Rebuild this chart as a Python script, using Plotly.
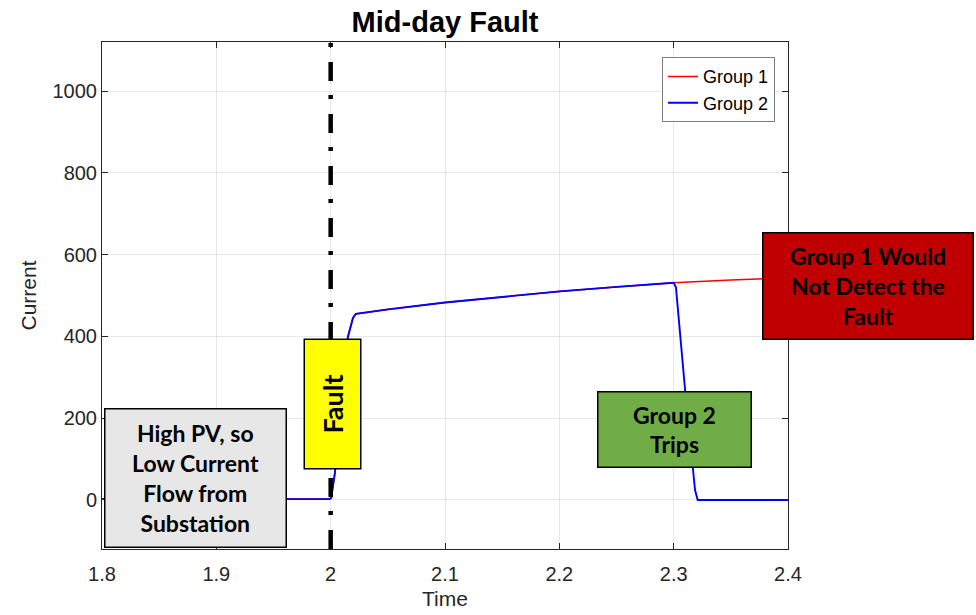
"""Mid-day fault: substation current seen by two protection groups."""

import plotly.graph_objects as go

# Group 1 keeps seeing the (slowly rising) fault current
TIME_G1 = [1.8, 1.9, 1.999, 2.0005, 2.0038, 2.008, 2.012, 2.015, 2.0195, 2.022,
           2.05, 2.1, 2.15, 2.2, 2.25, 2.3, 2.35, 2.4]
CURR_G1 = [2, 2, 2, 5, 68, 200, 330, 398, 445, 455,
           466, 483, 497, 510, 521, 531, 538, 543]

# Group 2 trips shortly after 2.3 s
TIME_G2 = [1.8, 1.9, 1.999, 2.0005, 2.0038, 2.008, 2.012, 2.015, 2.0195, 2.022,
           2.05, 2.1, 2.15, 2.2, 2.25, 2.3, 2.302, 2.31, 2.3187, 2.321, 2.35, 2.4]
CURR_G2 = [2, 2, 2, 5, 68, 200, 330, 398, 445, 455,
           466, 483, 497, 510, 521, 531, 520, 269, 24, 0, 0, 0]

FAULT_TIME = 2.0
X_TICKS = [1.8, 1.9, 2.0, 2.1, 2.2, 2.3, 2.4]
X_TICK_TEXT = ["1.8", "1.9", "2", "2.1", "2.2", "2.3", "2.4"]
Y_TICKS = [0, 200, 400, 600, 800, 1000]

TICK_FONT = {"family": "Liberation Sans, Arial", "size": 20, "color": "#262626"}
BOX_FONT = {"family": "Lato, Carlito, Calibri", "size": 23, "color": "black"}
GRID = "rgba(0,0,0,0.09)"

fig = go.Figure()
fig.add_trace(go.Scatter(x=TIME_G1, y=CURR_G1, mode="lines", name="Group 1",
                         line={"color": "#ff0000", "width": 1.5}))
fig.add_trace(go.Scatter(x=TIME_G2, y=CURR_G2, mode="lines", name="Group 2",
                         line={"color": "#0000ff", "width": 1.9}))

# fault instant
fig.add_shape(type="line", xref="x", yref="paper", x0=FAULT_TIME, x1=FAULT_TIME,
              y0=0, y1=1, line={"color": "black", "width": 4.5,
                                "dash": "19px,15px,4px,14px"})


def box(text, x, y, w, h, bg, angle=0, size=23):
    fig.add_annotation(
        text=text, xref="paper", yref="paper", x=x, y=y,
        xanchor="center", yanchor="middle", showarrow=False,
        width=w, height=h, bgcolor=bg, bordercolor="black", borderwidth=1.5,
        borderpad=0, textangle=angle, font={**BOX_FONT, "size": size},
        align="center",
    )


box("<b>High PV, so<br>Low Current<br>Flow from<br>Substation</b>",
    0.1363, 0.140, 180, 137, "#e7e7e7")
box("<b>Fault</b>", 0.3353, 0.285, 128, 55, "#ffff00", angle=-90, size=27)
box("<b>Group 2<br>Trips</b>", 0.8346, 0.2357, 152, 74, "#70ad47")
box("<b>Group 1 Would<br>Not Detect the<br>Fault</b>", 1.1166, 0.5197, 209, 105,
    "#c00000")

fig.update_layout(
    width=976, height=615,
    margin={"l": 102, "r": 188, "t": 42, "b": 66},
    paper_bgcolor="white", plot_bgcolor="white",
    title={"text": "<b>Mid-day Fault</b>", "x": 0.456, "xanchor": "center",
           "y": 0.965, "yanchor": "middle",
           "font": {"family": "Liberation Sans, Arial", "size": 29,
                    "color": "black"}},
    legend={"x": 0.981, "y": 0.970, "xanchor": "right", "yanchor": "top",
            "bgcolor": "white", "bordercolor": "#7f7f7f", "borderwidth": 1,
            "font": {"family": "Liberation Sans, Arial", "size": 18,
                     "color": "black"},
            "itemwidth": 30, "tracegroupgap": 0},
    showlegend=True,
)
fig.update_xaxes(
    range=[1.8, 2.4], tickvals=X_TICKS, ticktext=X_TICK_TEXT,
    tickfont=TICK_FONT, showgrid=True, gridcolor=GRID, zeroline=False,
    showline=True, linecolor="#262626", linewidth=1, mirror="ticks",
    ticks="inside", ticklen=6, tickcolor="#262626", ticklabelstandoff=7,
    automargin=False,
    title={"text": "Time", "font": {"family": "Liberation Sans, Arial",
                                    "size": 21, "color": "#262626"},
           "standoff": 7},
)
fig.update_yaxes(
    range=[-120, 1120], tickvals=Y_TICKS, tickfont=TICK_FONT,
    showgrid=True, gridcolor=GRID, zeroline=False,
    showline=True, linecolor="#262626", linewidth=1, mirror="ticks",
    ticks="inside", ticklen=6, tickcolor="#262626", automargin=False,
    title={"text": "Current", "font": {"family": "Liberation Sans, Arial",
                                       "size": 21, "color": "#262626"},
           "standoff": 10},
)

fig.write_html("out.html", config={"displayModeBar": False},
               post_script="document.body.style.margin='0';")
